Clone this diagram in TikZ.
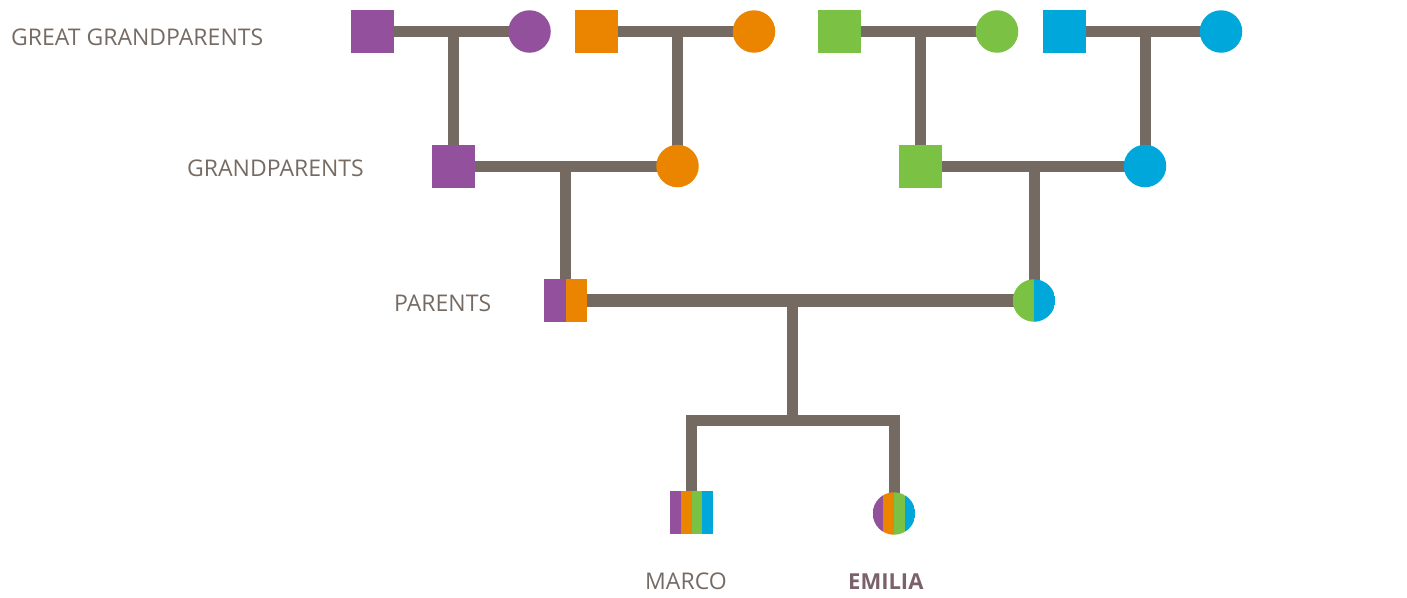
\documentclass[tikz,border=0pt]{standalone}
\usepackage{fontspec}
\setmainfont{Open Sans}
\usetikzlibrary{calc,backgrounds}
\definecolor{linec}{HTML}{756A61}
\definecolor{txt}{HTML}{766B63}
\definecolor{emil}{HTML}{7B6169}
\definecolor{pur}{HTML}{93509D}
\definecolor{ora}{HTML}{EB8500}
\definecolor{gre}{HTML}{7BC143}
\definecolor{blu}{HTML}{00A7DB}
\begin{document}
\begin{tikzpicture}[x=1pt,y=-1pt,
  conn/.style={draw=linec,line width=11pt},
  male/.style={rectangle,minimum size=43pt,inner sep=0pt,outer sep=0pt,fill=#1},
  female/.style={circle,minimum size=42.5pt,inner sep=0pt,outer sep=0pt,fill=#1},
  halfsq/.style={rectangle,minimum size=43pt,inner sep=0pt,outer sep=0pt,
    path picture={
      \foreach \c/\a/\b in {pur/0/0.5,ora/0.5/1}
        \fill[\c] ($(path picture bounding box.south west)!\a!(path picture bounding box.south east)$)
          rectangle ($(path picture bounding box.north west)!\b!(path picture bounding box.north east)$);}},
  halfci/.style={circle,minimum size=42.5pt,inner sep=0pt,outer sep=0pt,
    path picture={
      \foreach \c/\a/\b in {gre/0/0.5,blu/0.5/1}
        \fill[\c] ($(path picture bounding box.south west)!\a!(path picture bounding box.south east)$)
          rectangle ($(path picture bounding box.north west)!\b!(path picture bounding box.north east)$);}},
  stripes/.style={inner sep=0pt,outer sep=0pt,
    path picture={
      \foreach \c/\a/\b in {pur/0/0.25,ora/0.25/0.5,gre/0.5/0.75,blu/0.75/1}
        \fill[\c] ($(path picture bounding box.south west)!\a!(path picture bounding box.south east)$)
          rectangle ($(path picture bounding box.north west)!\b!(path picture bounding box.north east)$);}},
  lbl/.style={anchor=base west,inner sep=0pt,text=txt,font=\fontsize{23}{23}\selectfont}]
\useasboundingbox (0,0) rectangle (1407,597);

% great grandparents
\node[male=pur]   (g1) at (372.5,31.5) {};
\node[female=pur] (g2) at (529.5,31.5) {};
\node[male=ora]   (g3) at (596.5,31.5) {};
\node[female=ora] (g4) at (754,31.5) {};
\node[male=gre]   (g5) at (839.5,31.5) {};
\node[female=gre] (g6) at (997,31.5) {};
\node[male=blu]   (g7) at (1064.5,31.5) {};
\node[female=blu] (g8) at (1221,31.5) {};
% grandparents
\node[male=pur]   (gp1) at (453.5,166) {};
\node[female=ora] (gp2) at (677.5,166) {};
\node[male=gre]   (gp3) at (920.5,166) {};
\node[female=blu] (gp4) at (1145,166) {};
% parents
\node[halfsq] (p1) at (565.5,300.5) {};
\node[halfci] (p2) at (1034,300.5) {};
% children
\node[rectangle,minimum size=43pt,stripes] (c1) at (691.5,512.5) {};
\node[circle,minimum size=42.5pt,stripes] (c2) at (894,513.5) {};

\coordinate (pm) at (792.5,300.5);
\coordinate (cb) at (792.5,420.5);

\begin{pgfonlayer}{background}
\draw[conn] (g1.center) -- (g2.center);
\draw[conn] (g3.center) -- (g4.center);
\draw[conn] (g5.center) -- (g6.center);
\draw[conn] (g7.center) -- (g8.center);
\draw[conn] (gp1.center) -- (gp1.center |- g1.center);
\draw[conn] (gp2.center) -- (gp2.center |- g3.center);
\draw[conn] (gp3.center) -- (gp3.center |- g5.center);
\draw[conn] (gp4.center) -- (gp4.center |- g7.center);
\draw[conn] (gp1.center) -- (gp2.center);
\draw[conn] (gp3.center) -- (gp4.center);
\draw[conn] (p1.center) -- (p1.center |- gp1.center);
\draw[conn] (p2.center) -- (p2.center |- gp3.center);
\draw[conn,line width=13pt] (p1.center) -- (p2.center);
\draw[conn] (pm) -- (cb);
\draw[conn] (c1.center) |- (cb) -| (c2.center);
\end{pgfonlayer}

% labels
\node[lbl] (lgg) at (11,45) {GREAT GRANDPARENTS};
\node[lbl] (lgp) at (187,176.7) {GRANDPARENTS};
\node[lbl] (lp)  at (394,311) {PARENTS};
\node[lbl] (lm)  at (645,589.3) {MARCO};
\node[lbl,text=emil,font=\fontsize{22}{22}\selectfont\bfseries] (le) at (848,589.3) {EMILIA};
\end{tikzpicture}
\end{document}
